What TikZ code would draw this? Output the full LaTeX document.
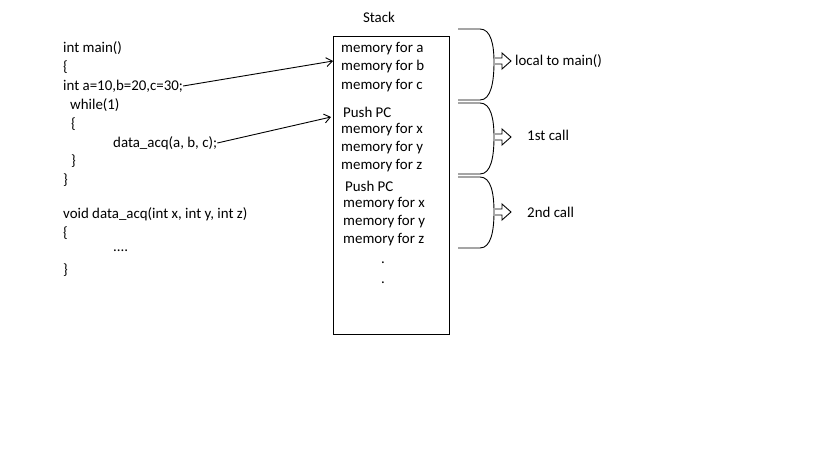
\documentclass[tikz,border=0pt]{standalone}
\usepackage{fontspec}
\setmainfont{Carlito}
\usepackage{tikz}
\usetikzlibrary{positioning}
\usetikzlibrary{arrows.meta}

\begin{document}
\begin{tikzpicture}[x=1pt, y=-1pt,
% define styles here
codeline/.style={anchor=west, inner sep=0pt, font=\fontsize{14.9}{17}\selectfont},
stackline/.style={anchor=west, inner sep=0pt, font=\fontsize{14.9}{17}\selectfont},
stackbox/.style={rectangle, draw, line width=0.9pt},
bracket/.style={draw, line width=0.9pt},
blockarrow/.style={draw, line width=0.9pt, fill=white},
pointer/.style={line width=0.9pt, -{Straight Barb[length=6pt,width=9pt]}}
]
\useasboundingbox (0,0) rectangle (819,460);

% the code
\node[codeline] (mainhead) at (63,48) {int main()};
\node[codeline] (mainopen) at (63,67) {\{};
\node[codeline] (vardecl) at (63,86) {int a=10,b=20,c=30;};
\node[codeline] (whileline) at (70,105) {while(1)};
\node[codeline] (whileopen) at (71,124) {\{};
\node[codeline] (callline) at (113,143) {data\_acq(a, b, c);};
\node[codeline] (whileclose) at (71,161) {\}};
\node[codeline] (mainclose) at (63,180) {\}};
\node[codeline] (funchead) at (63,214) {void data\_acq(int x, int y, int z)};
\node[codeline] (funcopen) at (63,233) {\{};
\node[codeline] (funcbody) at (113,251) {....};
\node[codeline] (funcclose) at (63,270) {\}};

% the stack
\node[codeline, anchor=center] (stacktitle) at (379,17) {Stack};
\draw[stackbox] (333,36) rectangle (449,334);
\node[stackline] (mema) at (341,49) {memory for a};
\node[stackline] (memb) at (341,67) {memory for b};
\node[stackline] (memc) at (341,86) {memory for c};
\node[stackline] (pushone) at (343,112) {Push PC};
\node[stackline] (memxone) at (341,130) {memory for x};
\node[stackline] (memyone) at (341,148) {memory for y};
\node[stackline] (memzone) at (341,166) {memory for z};
\node[stackline] (pushtwo) at (345,186) {Push PC};
\node[stackline] (memxtwo) at (343,204) {memory for x};
\node[stackline] (memytwo) at (343,222) {memory for y};
\node[stackline] (memztwo) at (343,240) {memory for z};
\node[stackline, anchor=center] (dotone) at (383,263) {.};
\node[stackline, anchor=center] (dottwo) at (383,283) {.};

% arrows into the stack
\coordinate (intovars) at (333,61);
\coordinate (intocall) at (331,117);
\draw[pointer] (vardecl.east) -- (intovars);
\draw[pointer] (callline.east) -- (intocall);

% brackets
\draw[bracket] (458,29) -- (480,29) .. controls (491,29) and (494,45) .. (494,62)
  .. controls (494,82) and (491,100) .. (480,100) -- (458,100);
\draw[bracket] (458,103) -- (480,103) .. controls (491,103) and (494,119) .. (494,137)
  .. controls (494,157) and (491,174) .. (480,174) -- (458,174);
\draw[bracket] (458,177) -- (480,177) .. controls (491,177) and (494,193) .. (494,212)
  .. controls (494,231) and (491,248) .. (480,248) -- (458,248);

\draw[blockarrow] (495,58) -- (502,58) -- (502,53) -- (511,61) -- (502,69) -- (502,64) -- (495,64);
\draw[blockarrow] (495,134) -- (502,134) -- (502,129) -- (511,137) -- (502,145) -- (502,140) -- (495,140);
\draw[blockarrow] (495,209) -- (502,209) -- (502,204) -- (511,212) -- (502,220) -- (502,215) -- (495,215);

\node[codeline] (localmain) at (515,61) {local to main()};
\node[codeline] (firstcall) at (527,135) {1st call};
\node[codeline] (secondcall) at (527,212) {2nd call};
\end{tikzpicture}
\end{document}
